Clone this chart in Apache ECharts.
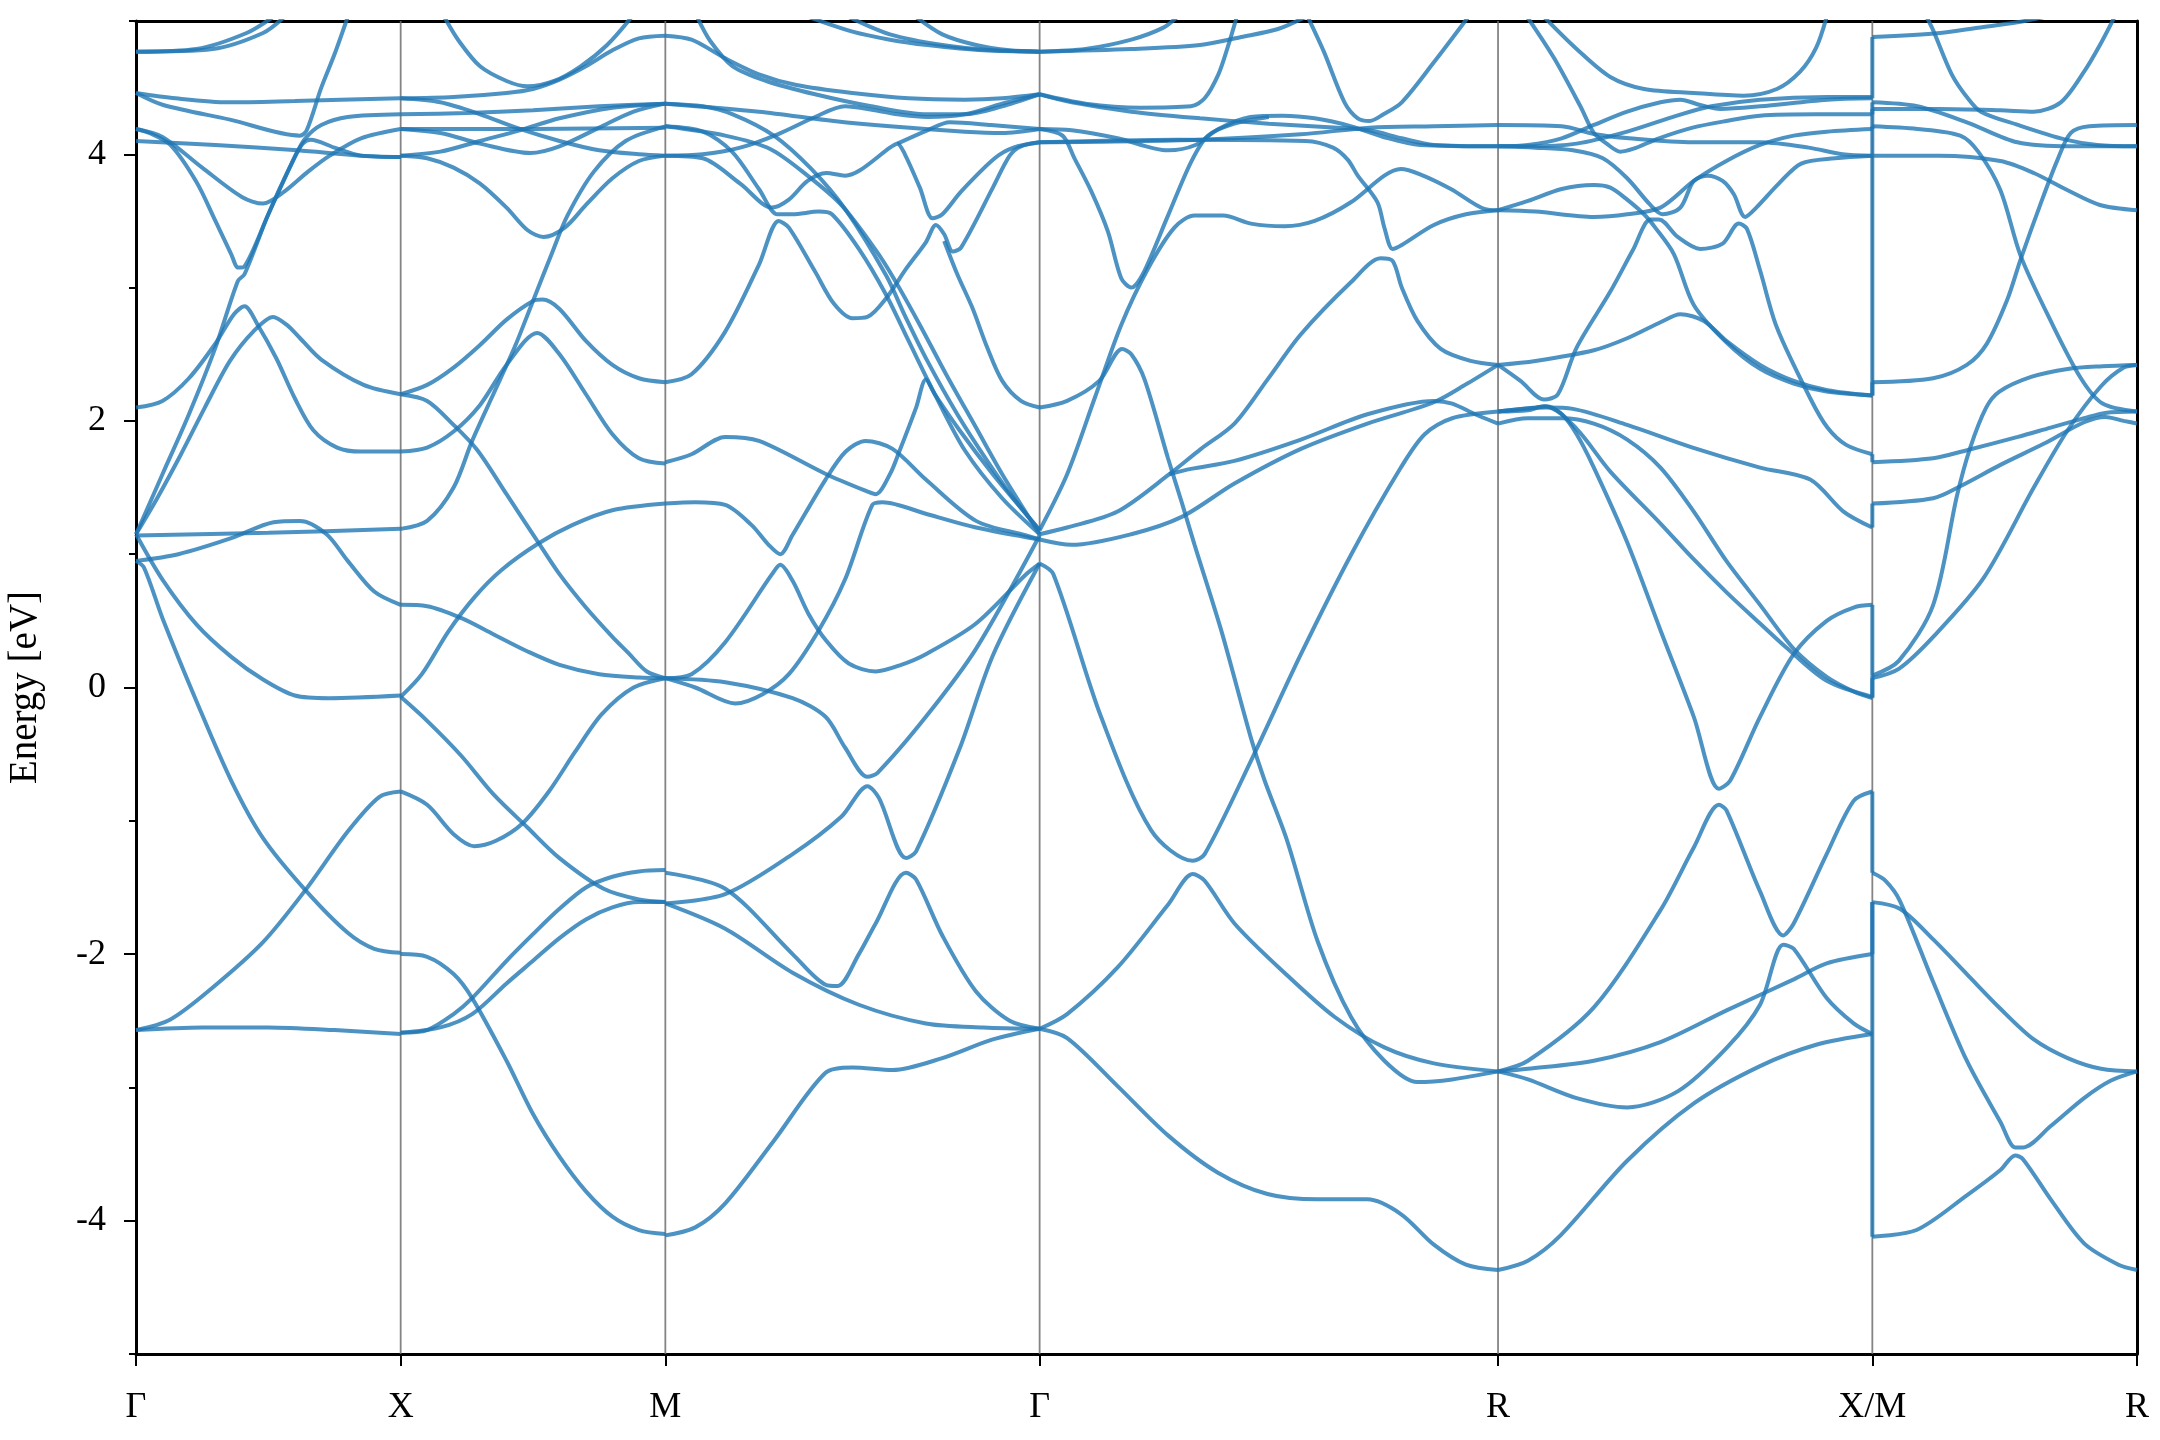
<!DOCTYPE html>
<html><head><meta charset="utf-8">
<script src="https://cdn.jsdelivr.net/npm/echarts@6/dist/echarts.min.js"></script>
<style>html,body{margin:0;padding:0;background:#fff}#chart{width:2160px;height:1440px}</style>
</head><body><div id="chart"></div>
<script>
// High-symmetry path
const kLabels = ['Γ', 'X', 'M', 'Γ', 'R', 'X/M', 'R'];
const segLengths = [0.5, 0.5, 0.7071, 0.8660, 0.7071, 0.5];
const yMajorTicks = [-4, -2, 0, 2, 4];

// Bands per segment: each curve is a list of [fraction along segment, energy (eV)]
const bandsGX = [
 [[0,4.77],[0.229,4.79],[0.418,4.91],[0.518,5.03]],
 [[0,4.77],[0.29,4.79],[0.48,4.91],[0.56,5.03]],
 [[0,4.46],[0.15,4.42],[0.35,4.39],[0.6,4.40],[1,4.42]],
 [[0,4.46],[0.103,4.37],[0.355,4.26],[0.619,4.14],[0.645,4.18],[0.7,4.5],[0.75,4.75],[0.8,5.03]],
 [[0,4.19],[0.1,4.13],[0.25,3.9],[0.4,3.68],[0.48,3.63],[0.56,3.72],[0.65,3.87],[0.732,3.99],[0.85,4.12],[1,4.19]],
 [[0,4.19],[0.05,4.16],[0.13,4.07],[0.229,3.79],[0.3,3.5],[0.36,3.25],[0.386,3.15],[0.41,3.16],[0.5,3.55],[0.6,3.98],[0.64,4.12],[0.7,4.22],[0.8,4.28],[1,4.30]],
 [[0,4.10],[0.3,4.07],[0.61,4.03],[0.85,3.99],[1,3.98]],
 [[0,1.15],[0.1,1.6],[0.2,2.05],[0.3,2.55],[0.385,3.05],[0.41,3.1],[0.5,3.55],[0.6,3.98],[0.63,4.08],[0.66,4.11],[0.75,4.05],[0.85,3.99],[1,3.98]],
 [[0,1.15],[0.08,1.42],[0.17,1.75],[0.26,2.1],[0.355,2.45],[0.443,2.67],[0.518,2.78],[0.57,2.72],[0.62,2.62],[0.7,2.46],[0.86,2.27],[1,2.2]],
 [[0,2.1],[0.1,2.15],[0.2,2.32],[0.3,2.58],[0.37,2.8],[0.41,2.86],[0.46,2.72],[0.53,2.47],[0.6,2.17],[0.67,1.93],[0.76,1.8],[0.85,1.77],[1,1.77]],
 [[0,-2.57],[0.25,-2.55],[0.5,-2.55],[0.75,-2.57],[1,-2.6]],
 [[0,-2.57],[0.13,-2.49],[0.29,-2.25],[0.48,-1.91],[0.64,-1.52],[0.8,-1.08],[0.92,-0.82],[1,-0.78]],
 [[0,0.95],[0.03,0.9],[0.1,0.52],[0.23,-0.11],[0.36,-0.7],[0.48,-1.13],[0.64,-1.52],[0.8,-1.84],[0.9,-1.96],[1,-1.99]],
 [[0,1.15],[0.1,0.81],[0.23,0.47],[0.36,0.23],[0.48,0.06],[0.6,-0.06],[0.73,-0.08],[1,-0.06]],
 [[0,1.14],[0.5,1.16],[1,1.19]],
 [[0,0.95],[0.16,1.0],[0.36,1.12],[0.52,1.24],[0.62,1.25],[0.72,1.15],[0.8,0.95],[0.9,0.72],[1,0.62]]
];
const bandsXM = [
 [[0.165,5.03],[0.22,4.85],[0.3,4.66],[0.4,4.55],[0.479,4.51],[0.58,4.55],[0.68,4.66],[0.78,4.82],[0.873,5.03]],
 [[0,4.42],[0.2,4.43],[0.4,4.46],[0.5,4.49],[0.6,4.56],[0.7,4.66],[0.8,4.78],[0.9,4.87],[1,4.89]],
 [[0,4.42],[0.15,4.39],[0.3,4.3],[0.45,4.19],[0.6,4.1],[0.75,4.03],[0.9,4.0],[1,3.99]],
 [[0,4.30],[0.25,4.31],[0.5,4.33],[0.75,4.36],[1,4.38]],
 [[0,4.19],[0.5,4.19],[1,4.20]],
 [[0,4.19],[0.15,4.16],[0.3,4.08],[0.49,4.01],[0.6,4.06],[0.75,4.2],[0.88,4.32],[1,4.38]],
 [[0,3.99],[0.15,4.02],[0.3,4.1],[0.45,4.18],[0.6,4.27],[0.8,4.35],[1,4.38]],
 [[0,3.99],[0.1,3.97],[0.2,3.9],[0.3,3.78],[0.4,3.6],[0.48,3.43],[0.54,3.38],[0.62,3.45],[0.7,3.62],[0.8,3.82],[0.9,3.95],[1,3.99]],
 [[0,1.19],[0.1,1.25],[0.2,1.5],[0.27,1.85],[0.35,2.2],[0.43,2.55],[0.5,2.9],[0.57,3.25],[0.63,3.54],[0.73,3.87],[0.85,4.1],[1,4.21]],
 [[0,2.2],[0.1,2.27],[0.2,2.4],[0.3,2.57],[0.4,2.76],[0.5,2.9],[0.535,2.91],[0.6,2.84],[0.7,2.6],[0.8,2.42],[0.9,2.32],[1,2.29]],
 [[0,1.77],[0.1,1.8],[0.2,1.92],[0.3,2.12],[0.4,2.42],[0.516,2.66],[0.6,2.5],[0.7,2.2],[0.8,1.9],[0.9,1.72],[1,1.68]],
 [[0,2.2],[0.1,2.15],[0.2,1.97],[0.29,1.78],[0.4,1.45],[0.516,1.1],[0.6,0.85],[0.7,0.6],[0.8,0.38],[0.86,0.26],[0.93,0.12],[1,0.07]],
 [[0,-0.07],[0.08,0.1],[0.18,0.42],[0.28,0.68],[0.38,0.88],[0.52,1.08],[0.65,1.22],[0.8,1.33],[1,1.38]],
 [[0,0.62],[0.1,0.61],[0.23,0.52],[0.35,0.4],[0.48,0.27],[0.6,0.17],[0.75,0.1],[0.9,0.075],[1,0.07]],
 [[0,-0.07],[0.1,-0.25],[0.228,-0.51],[0.35,-0.8],[0.479,-1.05],[0.6,-1.28],[0.767,-1.51],[0.9,-1.59],[1,-1.61]],
 [[0,-0.78],[0.1,-0.88],[0.2,-1.1],[0.278,-1.19],[0.36,-1.15],[0.46,-1.02],[0.56,-0.78],[0.66,-0.48],[0.76,-0.2],[0.88,0.0],[1,0.07]],
 [[0,-2.0],[0.1,-2.02],[0.2,-2.15],[0.27,-2.33],[0.4,-2.8],[0.5,-3.2],[0.6,-3.52],[0.7,-3.78],[0.8,-3.97],[0.9,-4.07],[1,-4.1]],
 [[0,-2.59],[0.1,-2.57],[0.2,-2.45],[0.27,-2.33],[0.4,-2.05],[0.5,-1.85],[0.6,-1.66],[0.7,-1.5],[0.8,-1.42],[0.9,-1.38],[1,-1.37]],
 [[0,-2.59],[0.15,-2.55],[0.27,-2.45],[0.4,-2.22],[0.5,-2.05],[0.6,-1.88],[0.7,-1.74],[0.8,-1.65],[0.9,-1.61],[1,-1.61]]
];
const bandsMG = [
 [[0.383,5.03],[0.5,4.92],[0.6,4.86],[0.7,4.82],[0.85,4.78],[1,4.77]],
 [[0.49,5.03],[0.6,4.9],[0.74,4.82],[0.88,4.78],[1,4.77]],
 [[0.67,5.03],[0.74,4.9],[0.83,4.82],[0.92,4.78],[1,4.77]],
 [[0,4.89],[0.07,4.86],[0.16,4.72],[0.25,4.6],[0.35,4.52],[0.5,4.46],[0.65,4.42],[0.8,4.41],[0.9,4.42],[1,4.45]],
 [[0.085,5.03],[0.12,4.85],[0.18,4.66],[0.27,4.55],[0.4,4.45],[0.55,4.36],[0.7,4.3],[0.8,4.3],[0.9,4.36],[1,4.45]],
 [[0,4.38],[0.25,4.32],[0.45,4.25],[0.6,4.21],[0.8,4.17],[0.9,4.16],[1,4.19]],
 [[0,3.99],[0.1,4.0],[0.2,4.05],[0.3,4.15],[0.4,4.28],[0.48,4.36],[0.56,4.33],[0.62,4.3],[0.7,4.28],[0.8,4.3],[0.9,4.38],[1,4.45]],
 [[0,4.38],[0.1,4.36],[0.18,4.3],[0.29,4.14],[0.39,3.89],[0.48,3.59],[0.59,3.09],[0.64,2.79],[0.7,2.45],[0.78,2.05],[0.86,1.7],[0.93,1.42],[1,1.18]],
 [[0,4.21],[0.16,4.14],[0.28,4.04],[0.38,3.84],[0.47,3.62],[0.56,3.29],[0.61,3.07],[0.68,2.72],[0.75,2.35],[0.83,1.95],[0.9,1.6],[1,1.15]],
 [[0,4.21],[0.1,4.17],[0.178,4.02],[0.25,3.74],[0.3,3.55],[0.34,3.55],[0.41,3.57],[0.445,3.55],[0.517,3.29],[0.589,2.95],[0.65,2.6],[0.72,2.2],[0.8,1.78],[0.9,1.42],[1,1.15]],
 [[0,3.99],[0.1,3.97],[0.2,3.78],[0.285,3.6],[0.33,3.66],[0.38,3.8],[0.43,3.86],[0.48,3.84],[0.52,3.88],[0.6,4.05],[0.62,4.08],[0.64,4.0],[0.68,3.75],[0.714,3.52],[0.74,3.55],[0.79,3.72],[0.88,3.97],[0.93,4.05],[1,4.09]],
 [[0.62,4.08],[0.7,4.18],[0.76,4.24],[0.87,4.22],[1,4.19]],
 [[0,2.29],[0.07,2.35],[0.16,2.67],[0.25,3.17],[0.303,3.5],[0.33,3.45],[0.4,3.12],[0.45,2.88],[0.5,2.77],[0.54,2.78],[0.59,2.92],[0.643,3.14],[0.696,3.34],[0.723,3.47],[0.745,3.4],[0.768,3.27],[0.79,3.3],[0.875,3.75],[0.92,3.99],[0.95,4.06],[1,4.09]],
 [[0.745,3.35],[0.78,3.1],[0.82,2.85],[0.86,2.55],[0.9,2.3],[0.95,2.15],[1,2.1]],
 [[0,1.69],[0.07,1.75],[0.16,1.88],[0.25,1.85],[0.43,1.6],[0.54,1.47],[0.562,1.45],[0.6,1.6],[0.625,1.77],[0.67,2.1],[0.696,2.31],[0.72,2.2],[0.786,1.93],[0.875,1.6],[0.964,1.3],[1,1.18]],
 [[0,1.38],[0.08,1.39],[0.16,1.37],[0.23,1.22],[0.276,1.07],[0.307,1.0],[0.339,1.14],[0.428,1.56],[0.482,1.77],[0.535,1.85],[0.607,1.79],[0.696,1.56],[0.83,1.25],[0.964,1.14],[1,1.11]],
 [[0,0.07],[0.07,0.1],[0.16,0.34],[0.285,0.85],[0.307,0.92],[0.34,0.8],[0.383,0.55],[0.43,0.35],[0.49,0.18],[0.562,0.12],[0.63,0.17],[0.696,0.25],[0.83,0.48],[0.964,0.85],[1,0.93]],
 [[0,0.07],[0.08,0.0],[0.187,-0.12],[0.26,-0.05],[0.33,0.1],[0.41,0.43],[0.48,0.81],[0.553,1.37],[0.58,1.39],[0.7,1.3],[0.83,1.2],[1,1.11]],
 [[0,0.07],[0.16,0.04],[0.34,-0.08],[0.428,-0.22],[0.48,-0.45],[0.54,-0.67],[0.567,-0.64],[0.696,-0.22],[0.83,0.29],[1,1.14]],
 [[0,-1.62],[0.16,-1.55],[0.34,-1.25],[0.47,-0.97],[0.54,-0.74],[0.571,-0.83],[0.643,-1.28],[0.67,-1.23],[0.786,-0.46],[0.875,0.24],[1,0.93]],
 [[0,-1.39],[0.16,-1.51],[0.34,-2.0],[0.428,-2.23],[0.46,-2.24],[0.517,-2.0],[0.562,-1.77],[0.643,-1.39],[0.67,-1.44],[0.74,-1.86],[0.83,-2.28],[0.92,-2.5],[1,-2.56]],
 [[0,-1.62],[0.16,-1.81],[0.34,-2.14],[0.517,-2.38],[0.696,-2.52],[0.85,-2.55],[1,-2.56]],
 [[0,-4.11],[0.08,-4.05],[0.16,-3.87],[0.29,-3.4],[0.428,-2.89],[0.5,-2.85],[0.607,-2.87],[0.74,-2.78],[0.875,-2.64],[1,-2.56]]
];
const bandsGR = [
 [[0,4.77],[0.1,4.79],[0.2,4.86],[0.27,4.95],[0.3,5.03]],
 [[0,4.77],[0.2,4.79],[0.35,4.82],[0.44,4.88],[0.52,4.94],[0.58,5.03]],
 [[0,4.45],[0.1,4.38],[0.22,4.35],[0.33,4.36],[0.36,4.42],[0.39,4.6],[0.41,4.8],[0.43,5.03]],
 [[0.585,5.03],[0.62,4.77],[0.665,4.39],[0.694,4.27],[0.72,4.25],[0.75,4.3],[0.79,4.39],[0.86,4.69],[0.935,5.03]],
 [[0,4.45],[0.07,4.39],[0.2,4.32],[0.35,4.27],[0.5,4.23],[0.65,4.2],[0.72,4.18],[0.79,4.12],[0.86,4.07],[1,4.06]],
 [[0,4.19],[0.07,4.18],[0.17,4.12],[0.28,4.03],[0.34,4.07],[0.39,4.19],[0.46,4.28],[0.53,4.29],[0.6,4.27],[0.68,4.21],[0.75,4.13],[0.83,4.07],[1,4.06]],
 [[0,4.19],[0.05,4.14],[0.076,3.97],[0.113,3.72],[0.149,3.42],[0.178,3.07],[0.2,3.0],[0.225,3.1],[0.28,3.54],[0.33,3.94],[0.367,4.14],[0.425,4.23],[0.5,4.28]],
 [[0,4.09],[0.35,4.11],[0.57,4.15],[0.72,4.2],[0.86,4.21],[1,4.22]],
 [[0,4.09],[0.3,4.11],[0.58,4.1],[0.64,4.05],[0.672,3.96],[0.694,3.84],[0.737,3.64],[0.752,3.45],[0.77,3.29],[0.79,3.32],[0.86,3.47],[0.93,3.55],[1,3.58]],
 [[0,1.18],[0.06,1.6],[0.12,2.17],[0.178,2.72],[0.236,3.14],[0.294,3.45],[0.338,3.54],[0.4,3.54],[0.461,3.48],[0.534,3.46],[0.6,3.5],[0.679,3.64],[0.752,3.84],[0.788,3.89],[0.83,3.85],[0.897,3.74],[0.97,3.59],[1,3.58]],
 [[0,2.1],[0.06,2.15],[0.13,2.3],[0.18,2.54],[0.2,2.5],[0.229,2.31],[0.28,1.72],[0.309,1.4],[0.338,1.07],[0.396,0.43],[0.461,-0.38],[0.49,-0.69],[0.54,-1.15],[0.606,-1.9],[0.679,-2.47],[0.752,-2.8],[0.824,-2.96],[0.9,-2.94],[1,-2.88]],
 [[0,1.15],[0.06,1.2],[0.17,1.32],[0.283,1.6],[0.352,1.79],[0.425,1.98],[0.497,2.31],[0.57,2.65],[0.679,3.04],[0.744,3.22],[0.77,3.2],[0.79,3.0],[0.824,2.75],[0.875,2.54],[0.94,2.45],[1,2.42]],
 [[0,1.11],[0.07,1.07],[0.2,1.15],[0.31,1.28],[0.425,1.53],[0.57,1.79],[0.715,1.98],[0.86,2.14],[0.933,2.28],[1,2.42]],
 [[0.283,1.6],[0.33,1.64],[0.425,1.7],[0.57,1.86],[0.715,2.05],[0.86,2.15],[0.9,2.13],[0.95,2.05],[1,1.98]],
 [[0,0.93],[0.03,0.85],[0.134,-0.22],[0.243,-1.07],[0.334,-1.3],[0.36,-1.25],[0.461,-0.55],[0.57,0.25],[0.68,1.0],[0.788,1.65],[0.84,1.9],[0.9,2.02],[1,2.07]],
 [[0,-2.56],[0.06,-2.45],[0.17,-2.1],[0.28,-1.63],[0.334,-1.4],[0.36,-1.45],[0.425,-1.77],[0.534,-2.14],[0.643,-2.47],[0.752,-2.7],[0.86,-2.82],[1,-2.88]],
 [[0,-2.56],[0.06,-2.63],[0.17,-2.99],[0.28,-3.36],[0.389,-3.64],[0.497,-3.8],[0.606,-3.84],[0.715,-3.84],[0.788,-3.95],[0.86,-4.18],[0.93,-4.33],[1,-4.37]]
];
const bandsRX = [
 [[0.123,5.03],[0.21,4.79],[0.3,4.58],[0.39,4.49],[0.523,4.46],[0.656,4.44],[0.745,4.49],[0.807,4.62],[0.85,4.8],[0.878,5.03]],
 [[0.078,5.03],[0.15,4.72],[0.22,4.36],[0.256,4.16],[0.29,4.08],[0.327,4.02],[0.36,4.04],[0.43,4.12],[0.52,4.2],[0.61,4.25],[0.7,4.29],[0.85,4.3],[1,4.3]],
 [[0,4.22],[0.17,4.21],[0.26,4.15],[0.35,4.12],[0.52,4.09],[0.7,4.09],[0.83,4.05],[0.92,4.0],[1,3.99]],
 [[0,4.06],[0.08,4.06],[0.21,4.08],[0.345,4.17],[0.478,4.29],[0.57,4.36],[0.7,4.41],[0.88,4.43],[1,4.43]],
 [[0,4.06],[0.08,4.07],[0.17,4.12],[0.256,4.22],[0.345,4.32],[0.434,4.39],[0.487,4.41],[0.54,4.37],[0.594,4.34],[0.7,4.36],[0.88,4.41],[1,4.42]],
 [[0,4.06],[0.1,4.05],[0.2,4.03],[0.28,3.97],[0.345,3.82],[0.407,3.62],[0.44,3.55],[0.487,3.6],[0.523,3.8],[0.56,3.84],[0.6,3.8],[0.63,3.7],[0.66,3.53],[0.69,3.6],[0.75,3.78],[0.81,3.93],[0.9,3.97],[1,3.99]],
 [[0,3.58],[0.08,3.65],[0.17,3.74],[0.256,3.77],[0.3,3.75],[0.345,3.66],[0.39,3.55],[0.42,3.45],[0.47,3.25],[0.523,2.87],[0.61,2.59],[0.7,2.39],[0.79,2.28],[0.878,2.22],[1,2.19]],
 [[0,3.58],[0.1,3.57],[0.256,3.53],[0.345,3.55],[0.434,3.6],[0.523,3.8],[0.61,3.95],[0.7,4.07],[0.79,4.14],[0.878,4.17],[1,4.19]],
 [[0,2.42],[0.06,2.3],[0.123,2.16],[0.16,2.2],[0.21,2.55],[0.3,2.97],[0.36,3.28],[0.407,3.51],[0.43,3.51],[0.48,3.38],[0.54,3.29],[0.6,3.33],[0.643,3.48],[0.665,3.44],[0.7,3.13],[0.745,2.7],[0.834,2.17],[0.88,1.95],[0.93,1.82],[1,1.75]],
 [[0,2.42],[0.1,2.45],[0.256,2.53],[0.345,2.62],[0.434,2.74],[0.487,2.8],[0.55,2.75],[0.61,2.6],[0.7,2.42],[0.79,2.3],[0.88,2.23],[1,2.19]],
 [[0,2.07],[0.08,2.08],[0.123,2.11],[0.17,2.05],[0.21,1.9],[0.256,1.65],[0.345,1.09],[0.434,0.43],[0.523,-0.22],[0.59,-0.76],[0.62,-0.7],[0.7,-0.22],[0.79,0.25],[0.878,0.5],[0.95,0.6],[1,0.62]],
 [[0,1.98],[0.08,2.02],[0.17,2.02],[0.256,1.98],[0.345,1.86],[0.434,1.65],[0.523,1.32],[0.61,0.95],[0.7,0.62],[0.79,0.29],[0.878,0.08],[0.95,-0.03],[1,-0.08]],
 [[0,2.07],[0.1,2.1],[0.13,2.11],[0.21,1.94],[0.3,1.62],[0.434,1.23],[0.52,0.97],[0.612,0.71],[0.7,0.48],[0.77,0.3],[0.878,0.05],[1,-0.07]],
 [[0,2.07],[0.13,2.1],[0.2,2.09],[0.345,1.97],[0.52,1.8],[0.7,1.65],[0.834,1.56],[0.923,1.32],[1,1.2]],
 [[0,-2.88],[0.08,-2.8],[0.256,-2.4],[0.434,-1.67],[0.523,-1.2],[0.59,-0.88],[0.61,-0.92],[0.7,-1.53],[0.762,-1.86],[0.79,-1.77],[0.878,-1.25],[0.95,-0.85],[1,-0.78]],
 [[0,-2.88],[0.08,-2.86],[0.256,-2.8],[0.434,-2.66],[0.612,-2.42],[0.79,-2.19],[0.878,-2.07],[1,-2.0]],
 [[0,-2.88],[0.08,-2.94],[0.21,-3.08],[0.345,-3.15],[0.48,-3.03],[0.612,-2.7],[0.7,-2.38],[0.762,-1.93],[0.79,-1.96],[0.878,-2.33],[0.95,-2.52],[1,-2.6]],
 [[0,-4.37],[0.08,-4.3],[0.167,-4.11],[0.345,-3.55],[0.523,-3.12],[0.7,-2.84],[0.85,-2.68],[1,-2.6]]
];
const bandsMR = [
 [[0,4.88],[0.256,4.91],[0.4,4.95],[0.548,4.99],[0.65,5.03]],
 [[0,4.39],[0.17,4.36],[0.357,4.24],[0.548,4.09],[0.75,4.06],[1,4.06]],
 [[0,4.34],[0.25,4.34],[0.484,4.33],[0.61,4.32],[0.712,4.39],[0.8,4.62],[0.86,4.82],[0.915,5.03]],
 [[0.205,5.03],[0.23,4.93],[0.3,4.6],[0.357,4.43],[0.41,4.32],[0.55,4.22],[0.73,4.11],[0.85,4.07],[1,4.06]],
 [[0,4.21],[0.17,4.19],[0.332,4.14],[0.4,4.02],[0.484,3.73],[0.56,3.24],[0.674,2.75],[0.788,2.32],[0.87,2.13],[1,2.07]],
 [[0,3.99],[0.25,3.99],[0.484,3.95],[0.61,3.86],[0.738,3.73],[0.86,3.62],[1,3.58]],
 [[0,2.29],[0.23,2.32],[0.357,2.42],[0.433,2.58],[0.51,2.91],[0.56,3.21],[0.636,3.63],[0.7,3.96],[0.75,4.16],[0.82,4.21],[1,4.22]],
 [[0,1.69],[0.23,1.72],[0.357,1.78],[0.55,1.88],[0.674,1.95],[0.8,2.02],[0.88,2.06],[1,2.07]],
 [[0,1.38],[0.23,1.42],[0.332,1.51],[0.484,1.67],[0.649,1.83],[0.8,1.99],[0.88,2.03],[0.95,2.0],[1,1.98]],
 [[0,0.09],[0.1,0.2],[0.23,0.62],[0.32,1.44],[0.37,1.8],[0.43,2.1],[0.48,2.22],[0.6,2.33],[0.738,2.39],[0.87,2.41],[1,2.42]],
 [[0,0.07],[0.1,0.14],[0.23,0.38],[0.42,0.82],[0.61,1.5],[0.738,1.93],[0.864,2.26],[0.95,2.4],[1,2.42]],
 [[0,-1.39],[0.05,-1.45],[0.104,-1.6],[0.23,-2.21],[0.357,-2.8],[0.484,-3.26],[0.54,-3.45],[0.57,-3.45],[0.674,-3.29],[0.8,-3.08],[0.9,-2.95],[1,-2.88]],
 [[0,-1.61],[0.104,-1.66],[0.23,-1.89],[0.357,-2.15],[0.484,-2.41],[0.61,-2.64],[0.738,-2.78],[0.864,-2.86],[1,-2.88]],
 [[0,-4.12],[0.167,-4.07],[0.357,-3.81],[0.484,-3.62],[0.54,-3.51],[0.57,-3.54],[0.674,-3.84],[0.8,-4.17],[0.93,-4.33],[1,-4.37]]
];
// Band jumps at the X/M discontinuity: [energy at X, energy at M]
const jumpsXM = [[-2.6,-4.12],[-2.6,-1.61],[-2.0,-1.61],[-0.78,-1.39],[-0.08,0.07],[-0.07,0.09],[0.62,0.09],[1.2,1.38],[1.75,1.69],[2.19,2.29],[2.19,3.99],[3.99,3.99],[3.99,4.21],[4.19,4.34],[4.3,4.39],[4.42,4.88]];

const kPos = [0];
segLengths.forEach((l, i) => kPos.push(kPos[i] + l));
const kMax = kPos[kPos.length - 1];

const FONT = "'Liberation Serif','DejaVu Serif',serif";
const bandStyle = { color: 'rgba(31,119,180,0.8)', width: 4 };
const series = [];

// vertical high-symmetry lines
kPos.slice(1, -1).forEach(k => series.push({
  type: 'line', data: [[k, -5], [k, 5]], symbol: 'none', silent: true, z: 1,
  lineStyle: { color: 'rgba(110,110,110,0.85)', width: 1.8 }
}));

[bandsGX, bandsXM, bandsMG, bandsGR, bandsRX, bandsMR].forEach((bands, s) => {
  bands.forEach(curve => series.push({
    type: 'line', symbol: 'none', silent: true, smooth: 0.3, z: 3,
    lineStyle: bandStyle,
    data: curve.map(p => [kPos[s] + p[0] * segLengths[s], p[1]])
  }));
});
jumpsXM.forEach(j => series.push({
  type: 'line', symbol: 'none', silent: true, z: 3, lineStyle: bandStyle,
  data: [[kPos[5], j[0]], [kPos[5], j[1]]]
}));

const chart = echarts.init(document.getElementById('chart'), null, { renderer: 'canvas' });
chart.setOption({
  animation: false,
  backgroundColor: '#ffffff',
  grid: { left: 136, right: 23, top: 21, bottom: 86, outerBoundsMode: 'none' },
  xAxis: [{
    type: 'value', min: 0, max: kMax, position: 'bottom',
    axisLine: { show: true, onZero: false, lineStyle: { color: '#000', width: 3 } },
    axisTick: { show: true, inside: false, length: 12, customValues: kPos, lineStyle: { color: '#000', width: 2 } },
    axisLabel: {
      show: true, customValues: kPos, margin: 36, fontFamily: FONT, fontSize: 36, color: '#000',
      showMinLabel: true, showMaxLabel: true,
      formatter: v => { const i = kPos.findIndex(k => Math.abs(k - v) < 1e-6); return i >= 0 ? kLabels[i] : ''; }
    },
    splitLine: { show: false }
  }, {
    type: 'value', min: 0, max: kMax, position: 'top',
    axisLine: { show: true, onZero: false, lineStyle: { color: '#000', width: 3 } },
    axisTick: { show: false }, axisLabel: { show: false }, splitLine: { show: false }
  }],
  yAxis: [{
    type: 'value', min: -5, max: 5, interval: 1, position: 'left',
    name: 'Energy [eV]', nameLocation: 'middle', nameRotate: 90, nameGap: 91,
    nameTextStyle: { fontFamily: FONT, fontSize: 39, color: '#000' },
    axisLine: { show: true, onZero: false, lineStyle: { color: '#000', width: 3 } },
    axisTick: { show: true, length: 7, lineStyle: { color: '#000', width: 2 } },
    axisLabel: {
      margin: 30, fontFamily: FONT, fontSize: 36, color: '#000',
      formatter: v => (yMajorTicks.indexOf(v) >= 0 ? String(v) : '')
    },
    splitLine: { show: false }
  }, {
    type: 'value', min: -5, max: 5, interval: 1, position: 'left',
    axisLine: { show: false },
    axisTick: { show: true, length: 12, customValues: yMajorTicks, lineStyle: { color: '#000', width: 2 } },
    axisLabel: { show: false }, splitLine: { show: false }
  }, {
    type: 'value', min: -5, max: 5, interval: 1, position: 'right',
    axisLine: { show: true, onZero: false, lineStyle: { color: '#000', width: 3 } },
    axisTick: { show: false }, axisLabel: { show: false }, splitLine: { show: false }
  }],
  series: series
});
</script>
</body></html>
